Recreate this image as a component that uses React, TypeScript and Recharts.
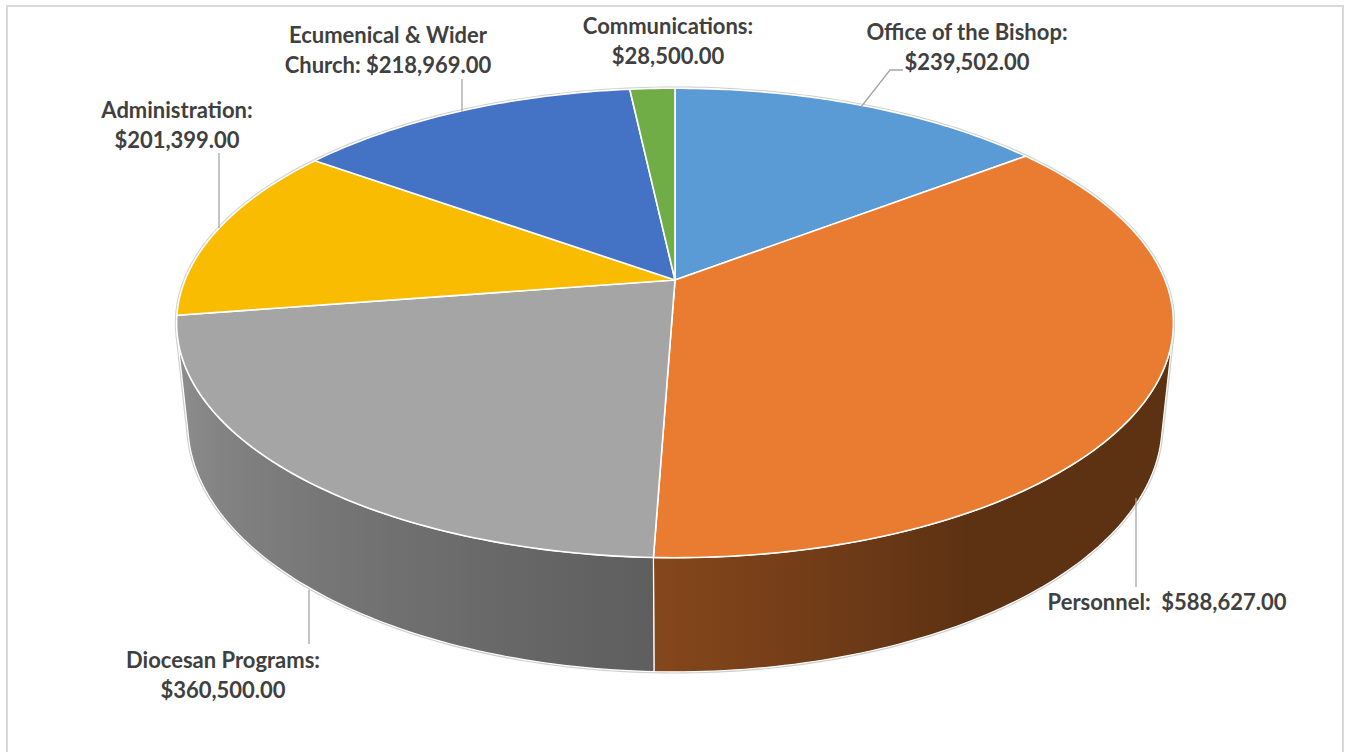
import React from "react";
import { PieChart, Pie } from "recharts";

const categories = [
  "Office of the Bishop",
  "Personnel",
  "Diocesan Programs",
  "Administration",
  "Ecumenical & Wider Church",
  "Communications",
];
const amounts = [239502, 588627, 360500, 201399, 218969, 28500];
const sliceColors = ["#5B9BD5", "#E97C30", "#A5A5A5", "#F9BC00", "#4472C4", "#70AD47"];

// where Excel put each data label (text centre / first baseline) and its leader line
const labelLayout = [
  { x: 967, y: 40, wrap: 21, sep: " ", leader: [[903, 70], [890, 70], [861, 107]] },
  { x: 1167, y: 610, wrap: 40, sep: "  ", leader: [[1136, 587], [1136, 498]] },
  { x: 223, y: 668, wrap: 21, sep: " ", leader: [[309, 644], [309, 590]] },
  { x: 177, y: 118, wrap: 21, sep: " ", leader: [[219, 153], [219, 228]] },
  { x: 388, y: 43, wrap: 21, sep: " ", leader: [[462, 79], [462, 112]] },
  { x: 668, y: 34, wrap: 21, sep: " ", leader: null },
];

const rows = categories.map((name, i) => ({ name, value: amounts[i], fill: sliceColors[i] }));

// simple perspective camera for the "3-D" look
const TILT_SIN = 0.463;
const TILT_COS = 0.886;
const EYE = 4.84; // camera distance, in pie radii
const THICK = 0.235; // pie height, in pie radii
const WALL_FROM = (Math.asin(1 / (EYE * TILT_COS)) * 180) / Math.PI;

const toScreen = (cx: number, cy: number, r: number, deg: number, h: number) => {
  const t = (deg * Math.PI) / 180;
  const u = Math.cos(t);
  const v = -Math.sin(t);
  const f = r * EYE;
  const d = EYE + h * THICK * TILT_SIN - v * TILT_COS;
  return [cx + (f * u) / d, cy + (f * (h * THICK * TILT_COS + v * TILT_SIN)) / d];
};

const shade = (w: number) => {
  if (w < -90) return 0.56 + ((0.88 - 0.56) * (-90 - w)) / (90 - WALL_FROM);
  if (w < -60) return 0.4 + (0.16 * (-60 - w)) / 30;
  return 0.4;
};

const scaleHex = (hex: string, k: number) => {
  const n = parseInt(hex.slice(1), 16);
  const c = [(n >> 16) & 255, (n >> 8) & 255, n & 255].map((x) => Math.round(x * k));
  return `rgb(${c[0]},${c[1]},${c[2]})`;
};

const arcPts = (cx: number, cy: number, r: number, from: number, to: number, h: number) => {
  const steps = Math.max(2, Math.ceil(Math.abs(to - from)));
  const out: number[][] = [];
  for (let i = 0; i <= steps; i++) out.push(toScreen(cx, cy, r, from + ((to - from) * i) / steps, h));
  return out;
};

const toPath = (pts: number[][]) => pts.map((p, i) => `${i ? "L" : "M"}${p[0].toFixed(2)},${p[1].toFixed(2)}`).join("");

const Slice3D = (props: any) => {
  const { cx, cy, outerRadius, startAngle, endAngle, index, fill } = props;
  const a0 = Math.min(startAngle, endAngle);
  const a1 = Math.max(startAngle, endAngle);
  const visLo = -180 + WALL_FROM;
  const visHi = -WALL_FROM;

  let wall: { lo: number; hi: number } | null = null;
  for (const s of [-360, 0, 360]) {
    const lo = Math.max(a0 + s, visLo);
    const hi = Math.min(a1 + s, visHi);
    if (hi > lo) wall = { lo, hi };
  }

  const topArc = arcPts(cx, cy, outerRadius, a0, a1, 0);
  const topPath = `M${cx},${cy}` + toPath(topArc).replace(/^M/, "L") + "Z";
  const gid = `wall-grad-${index}`;

  let wallEl = null;
  if (wall) {
    const upper = arcPts(cx, cy, outerRadius, wall.lo, wall.hi, 0);
    const lower = arcPts(cx, cy, outerRadius, wall.lo, wall.hi, 1);
    const xs = upper.map((p) => p[0]);
    const xMin = Math.min(...xs);
    const xMax = Math.max(...xs);
    const n = upper.length - 1;
    const stops = upper.map((p, i) => {
      const w = wall!.lo + ((wall!.hi - wall!.lo) * i) / n;
      return { off: (p[0] - xMin) / Math.max(1, xMax - xMin), color: scaleHex(fill, shade(w)) };
    });
    const wallPath = toPath(upper) + toPath([...lower].reverse()).replace(/^M/, "L") + "Z";
    let rim = toPath(lower);
    if (Math.abs(wall.lo - visLo) < 0.01) rim += toPath([upper[0], lower[0]]);
    if (Math.abs(wall.hi - visHi) < 0.01) rim += toPath([upper[n], lower[n]]);
    wallEl = (
      <g>
        <defs>
          <linearGradient id={gid} gradientUnits="userSpaceOnUse" x1={xMin} y1={0} x2={xMax} y2={0}>
            {stops.map((s, i) => (
              <stop key={i} offset={s.off} stopColor={s.color} />
            ))}
          </linearGradient>
        </defs>
        <path d={rim} fill="none" stroke="#cfcfcf" strokeWidth={3.5} />
        <path d={wallPath} fill={`url(#${gid})`} stroke="#ffffff" strokeWidth={1.2} strokeLinejoin="round" />
      </g>
    );
  }

  return (
    <g>
      <path d={toPath(topArc)} fill="none" stroke="#cfcfcf" strokeWidth={3.5} />
      {wallEl}
      <path d={topPath} fill={fill} stroke="#ffffff" strokeWidth={1.6} strokeLinejoin="round" />
    </g>
  );
};

const money = (v: number) => "$" + v.toLocaleString("en-US", { minimumFractionDigits: 2, maximumFractionDigits: 2 });

const wrapText = (s: string, max: number) => {
  const words = s.split(" ");
  const lines: string[] = [];
  let cur = "";
  for (const w of words) {
    const next = cur.length === 0 ? w : cur + " " + w;
    if (cur.length > 0 && next.length > max) {
      lines.push(cur);
      cur = w;
    } else cur = next;
  }
  lines.push(cur);
  return lines;
};

const renderLabel = (props: any) => {
  const { index, name, value } = props;
  const lay = labelLayout[index];
  const full = `${name}:${lay.sep}${money(value)}`;
  const lines = full.length <= lay.wrap ? [full] : wrapText(full, lay.wrap);
  return (
    <g key={`lbl-${index}`}>
      {lay.leader && (
        <polyline
          points={lay.leader.map((p) => p.join(",")).join(" ")}
          fill="none"
          stroke="#a6a6a6"
          strokeWidth={1.3}
        />
      )}
      <text
        x={lay.x}
        y={lay.y}
        textAnchor="middle"
        fill="#404040"
        fontFamily="Lato, 'Noto Sans', sans-serif"
        fontWeight={700}
        fontSize={22}
        style={{ whiteSpace: "pre" }}
      >
        {lines.map((l, i) => (
          <tspan key={i} x={lay.x} dy={i ? 29.5 : 0}>
            {l}
          </tspan>
        ))}
      </text>
    </g>
  );
};

export default function App() {
  return (
    <div style={{ position: "fixed", left: 0, top: 0, width: 1347, height: 752, background: "#ffffff", overflow: "hidden" }}>
      <div
        style={{
          position: "absolute",
          left: 6,
          top: 5,
          width: 1338,
          height: 800,
          border: "2px solid #d9d9d9",
          boxSizing: "border-box",
        }}
      />
      <PieChart width={1347} height={752} margin={{ top: 0, right: 0, bottom: 0, left: 0 }} style={{ position: "absolute", left: 0, top: 0 }}>
        <Pie
          data={rows}
          dataKey="value"
          nameKey="name"
          cx={675}
          cy={280}
          outerRadius={490}
          startAngle={90}
          endAngle={-270}
          stroke="none"
          shape={Slice3D}
          label={renderLabel}
          labelLine={false}
          isAnimationActive={false}
        />
      </PieChart>
    </div>
  );
}
